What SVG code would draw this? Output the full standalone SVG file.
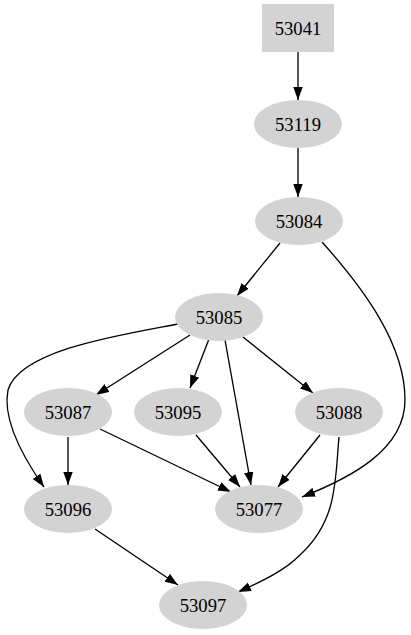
<svg xmlns="http://www.w3.org/2000/svg" width="411" height="635" viewBox="0 0 411 635">
<style>
.n{fill:#d3d3d3;stroke:none}
.t{font-family:"Liberation Serif","Times New Roman",serif;font-size:18.67px;fill:#000;text-anchor:middle}
.e{fill:none;stroke:#000;stroke-width:1.33;marker-end:url(#a)}
</style>
<defs>
<marker id="a" markerUnits="userSpaceOnUse" markerWidth="14" markerHeight="10" refX="13" refY="4.7" orient="auto">
<path d="M0,0 L13,4.7 L0,9.4 z" fill="#000"/>
</marker>
</defs>
<rect width="411" height="635" fill="#fff"/>
<g id="edges">
<path class="e" d="M298,52 L298,100"/>
<path class="e" d="M298,148 L298,197"/>
<path class="e" d="M280,243 L237,296"/>
<path class="e" d="M322,242 C365,290 405,345 405,400 C405,450 350,478 302,497"/>
<path class="e" d="M190,335 L96,395"/>
<path class="e" d="M178,324 C120,335 20,350 8,390 C2,420 25,460 44,487"/>
<path class="e" d="M209,339 L190,388"/>
<path class="e" d="M225,340 L251,485"/>
<path class="e" d="M243,337 L313,393"/>
<path class="e" d="M68,437 L68,485"/>
<path class="e" d="M100,429 L231,492"/>
<path class="e" d="M196,435 L240,487"/>
<path class="e" d="M320,435 L278,487"/>
<path class="e" d="M339,437 C335,480 338,520 300,555 C285,570 265,580 238,592"/>
<path class="e" d="M95,529 L178,585"/>
</g>
<g id="n53041"><rect class="n" x="262" y="4" width="72" height="48"/><text class="t" x="298" y="34.5">53041</text></g>
<g id="n53119"><ellipse class="n" cx="298" cy="124" rx="44" ry="24"/><text class="t" x="298" y="130.5">53119</text></g>
<g id="n53084"><ellipse class="n" cx="299" cy="221" rx="44" ry="24"/><text class="t" x="299" y="227.5">53084</text></g>
<g id="n53085"><ellipse class="n" cx="219" cy="317" rx="44" ry="24"/><text class="t" x="219" y="323.5">53085</text></g>
<g id="n53087"><ellipse class="n" cx="68" cy="412" rx="44" ry="24"/><text class="t" x="68" y="418.5">53087</text></g>
<g id="n53095"><ellipse class="n" cx="178" cy="412" rx="44" ry="24"/><text class="t" x="178" y="418.5">53095</text></g>
<g id="n53088"><ellipse class="n" cx="339" cy="412" rx="44" ry="24"/><text class="t" x="339" y="418.5">53088</text></g>
<g id="n53096"><ellipse class="n" cx="68" cy="509" rx="44" ry="24"/><text class="t" x="68" y="515.5">53096</text></g>
<g id="n53077"><ellipse class="n" cx="259" cy="509" rx="44" ry="24"/><text class="t" x="259" y="515.5">53077</text></g>
<g id="n53097"><ellipse class="n" cx="203" cy="605" rx="44" ry="24"/><text class="t" x="203" y="611.5">53097</text></g>
</svg>
